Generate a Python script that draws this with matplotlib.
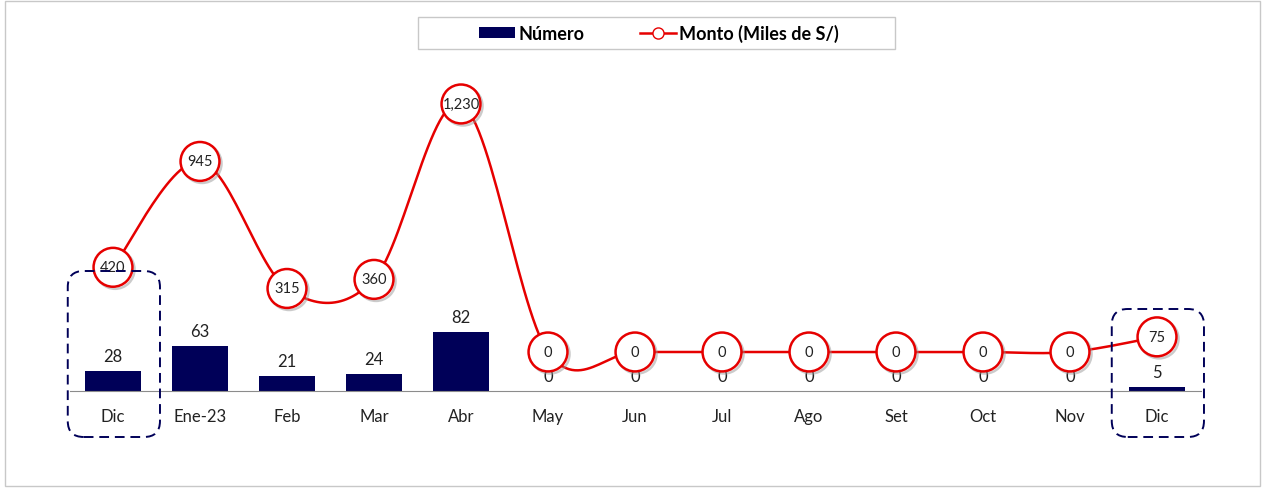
import numpy as np
import matplotlib
matplotlib.use("Agg")
import matplotlib.pyplot as plt
from matplotlib.patches import FancyBboxPatch, Rectangle
from matplotlib.transforms import IdentityTransform
from matplotlib.lines import Line2D
import matplotlib.patheffects as pe

plt.rcParams['font.family'] = ['Lato', 'DejaVu Sans']

meses = ["Dic", "Ene-23", "Feb", "Mar", "Abr", "May", "Jun", "Jul", "Ago", "Set", "Oct", "Nov", "Dic"]
numero = [28, 63, 21, 24, 82, 0, 0, 0, 0, 0, 0, 0, 5]
monto = [420, 945, 315, 360, 1230, 0, 0, 0, 0, 0, 0, 0, 75]

navy = "#000058"
rojo = "#e60000"

def excel_smooth(x, y, n=30):
    # bezier smoothing like excel's "smoothed line"
    x = np.asarray(x, float); y = np.asarray(y, float)
    px = np.concatenate([[x[0]], x, [x[-1]]])
    py = np.concatenate([[y[0]], y, [y[-1]]])
    xs, ys = [], []
    t = np.linspace(0, 1, n)
    for i in range(len(x) - 1):
        p0 = np.array([px[i+1], py[i+1]]); p3 = np.array([px[i+2], py[i+2]])
        p1 = p0 + (np.array([px[i+2], py[i+2]]) - np.array([px[i], py[i]])) / 6
        p2 = p3 - (np.array([px[i+3], py[i+3]]) - np.array([px[i+1], py[i+1]])) / 6
        b = ((1-t)**3)[:, None]*p0 + (3*(1-t)**2*t)[:, None]*p1 + (3*(1-t)*t**2)[:, None]*p2 + (t**3)[:, None]*p3
        xs.append(b[:, 0]); ys.append(b[:, 1])
    return np.concatenate(xs), np.concatenate(ys)

fig = plt.figure(figsize=(12.65, 4.89), dpi=100)
fig.patches.append(Rectangle((5/1265, 2/489), 1255/1265, 485/489, transform=fig.transFigure,
                             fill=False, edgecolor="#c8c8c8", linewidth=1))
ax = fig.add_axes([69.5/1265, 97/489, 1131/1265, 332/489])
x = np.arange(len(meses))

bars = ax.bar(x, numero, width=0.655, color=navy, label="Número", zorder=2)
ax.set_ylim(0, 461)
ax.set_xlim(-0.5, len(meses) - 0.5)
for xi, v in zip(x, numero):
    ax.annotate(str(v), (xi, v), xytext=(0, 5), textcoords="offset points",
                ha="center", va="bottom", fontsize=12, color="#222222")

ax.set_xticks(x)
ax.set_xticklabels(meses, fontsize=12, color="#222222")
ax.tick_params(axis="x", length=0, pad=12)
ax.set_yticks([])
for s in ["top", "right", "left"]:
    ax.spines[s].set_visible(False)
ax.spines["bottom"].set_color("#8c8c8c")

ax2 = ax.twinx()
ax2.set_ylim(-193.5, 1453)
ax2.set_yticks([])
for s in ["top", "right", "left", "bottom"]:
    ax2.spines[s].set_visible(False)
sx, sy = excel_smooth(x, monto)
ax2.plot(sx, sy, color=rojo, linewidth=1.8, zorder=3)
ax2.plot(x, monto, linestyle="none", marker="o", markersize=28, markerfacecolor="white",
         markeredgecolor=rojo, markeredgewidth=1.8, zorder=4,
         path_effects=[pe.SimpleLineShadow(offset=(1.5, -1.5), shadow_color="#999999", alpha=0.5), pe.Normal()])
for xi, v in zip(x, monto):
    ax2.text(xi, v, f"{v:,}", ha="center", va="center", fontsize=10.5, color="#222222", zorder=5)

# leyenda (caja dibujada aparte, mas ancha que el contenido)
fig.patches.append(Rectangle((418/1265, 1 - 50/489), 477/1265, 32/489, transform=fig.transFigure,
                             fill=False, edgecolor="#c8c8c8", linewidth=1))
h_line = Line2D([], [], color=rojo, linewidth=1.8, marker="o", markersize=8,
                markerfacecolor="white", markeredgecolor=rojo)
leg = fig.legend([bars, h_line], ["Número", "Monto (Miles de S/)"], loc="center",
                 bbox_to_anchor=(659/1265, 1 - 34/489), ncol=2, frameon=False,
                 prop={"weight": "bold", "size": 13},
                 handlelength=2.0, handleheight=0.6, handletextpad=0.15, columnspacing=3.1,
                 borderpad=0.4, borderaxespad=0)

# recuadros punteados de los meses Dic
fig.canvas.draw()
def recuadro(i, alto):
    x0, y0 = ax.transData.transform((i - 0.52, 0))
    x1, _ = ax.transData.transform((i + 0.54, 0))
    box = FancyBboxPatch((x0, y0 - 46), x1 - x0, alto + 46,
                         boxstyle="round,pad=0,rounding_size=16", transform=IdentityTransform(),
                         fill=False, edgecolor=navy, linewidth=1.4, linestyle=(0, (5, 3)), zorder=6)
    fig.patches.append(box)
recuadro(0, 120)
recuadro(12, 82)

fig.savefig("out.png", dpi=100)
